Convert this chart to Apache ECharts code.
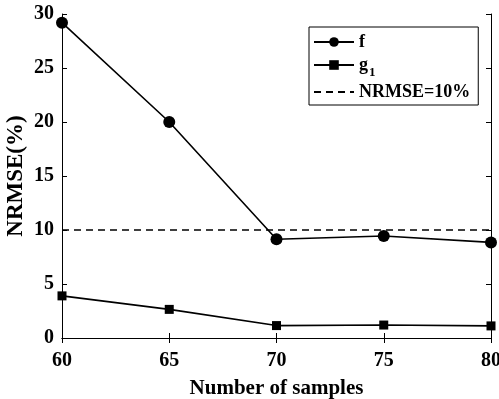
<!DOCTYPE html>
<html><head><meta charset="utf-8">
<script src="https://cdn.jsdelivr.net/npm/echarts@6/dist/echarts.min.js"></script>
<style>html,body{margin:0;padding:0;background:#fff}#c{width:499px;height:399px}</style>
</head><body><div id="c"></div>
<script>
const samples = [60, 65, 70, 75, 80];
const fValues = [29.2, 20.0, 9.15, 9.45, 8.85];
const g1Values = [3.9, 2.65, 1.15, 1.2, 1.12];
const thresholdValue = 10;
const xTicks = [60, 65, 70, 75, 80];
const yTicks = [0, 5, 10, 15, 20, 25, 30];

const FONT = '"Liberation Serif","Times New Roman",serif';
const chart = echarts.init(document.getElementById('c'));
const tickLabel = {color:'#000', fontFamily:FONT, fontWeight:'bold', fontSize:20};
chart.setOption({
  animation:false,
  grid:{left:62, right:8, top:14, bottom:61, containLabel:false, outerBoundsMode:'none'},
  legend:{
    left:309, top:27, orient:'vertical',
    data:['f','g1',{name:'NRMSE=10%', itemStyle:{opacity:0, borderWidth:0}}],
    itemWidth:40, itemHeight:12, itemGap:4,
    padding:[6,8,4,4],
    borderColor:'#000', borderWidth:1, borderRadius:0,
    formatter: n => n === 'g1' ? '{b|g}{s|1}' : '{b|' + n + '}',
    textStyle:{color:'#000', fontFamily:FONT, fontWeight:'bold', fontSize:18,
      rich:{b:{fontFamily:FONT, fontWeight:'bold', fontSize:18, color:'#000', lineHeight:20},
            s:{fontFamily:FONT, fontWeight:'bold', fontSize:13, color:'#000', lineHeight:20, verticalAlign:'top', padding:[11,0,0,1]}}}
  },
  xAxis:[{
    type:'value', min:60, max:80, interval:5,
    name:'Number of samples', nameLocation:'middle', nameGap:40, nameMoveOverlap:false,
    nameTextStyle:{color:'#000', fontFamily:FONT, fontWeight:'bold', fontSize:21},
    axisLine:{lineStyle:{color:'#000', width:1}},
    axisTick:{inside:true, length:5, lineStyle:{color:'#000'}},
    axisLabel:Object.assign({margin:13, customValues:xTicks}, tickLabel),
    splitLine:{show:false}
  },{
    type:'value', min:60, max:80, interval:5, position:'top',
    axisLine:{lineStyle:{color:'#000', width:1}},
    axisTick:{inside:true, length:5, lineStyle:{color:'#000'}},
    axisLabel:{show:false}, splitLine:{show:false}
  }],
  yAxis:[{
    type:'value', min:0, max:30, interval:5,
    name:'NRMSE(%)', nameLocation:'middle', nameGap:34, nameMoveOverlap:false,
    nameTextStyle:{color:'#000', fontFamily:FONT, fontWeight:'bold', fontSize:23},
    axisLine:{show:true, lineStyle:{color:'#000', width:1}},
    axisTick:{show:true, inside:true, length:5, lineStyle:{color:'#000'}},
    axisLabel:Object.assign({margin:8, customValues:yTicks}, tickLabel),
    splitLine:{show:false}
  },{
    type:'value', min:0, max:30, interval:5, position:'right',
    axisLine:{show:true, lineStyle:{color:'#000', width:1}},
    axisTick:{show:true, inside:true, length:5, lineStyle:{color:'#000'}},
    axisLabel:{show:false}, splitLine:{show:false}
  }],
  series:[
    {name:'f', type:'line', data:samples.map((x,i)=>[x,fValues[i]]),
     symbol:'circle', symbolSize:12, itemStyle:{color:'#000'},
     lineStyle:{color:'#000', width:1.6}},
    {name:'g1', type:'line', data:samples.map((x,i)=>[x,g1Values[i]]),
     symbol:'rect', symbolSize:9, itemStyle:{color:'#000'},
     lineStyle:{color:'#000', width:1.6}},
    {name:'NRMSE=10%', type:'line', data:[[samples[0],thresholdValue],[samples[samples.length-1],thresholdValue]],
     symbol:'none', itemStyle:{color:'#000'},
     lineStyle:{color:'#000', width:1.6, type:[7,5]}}
  ]
});
</script></body></html>
